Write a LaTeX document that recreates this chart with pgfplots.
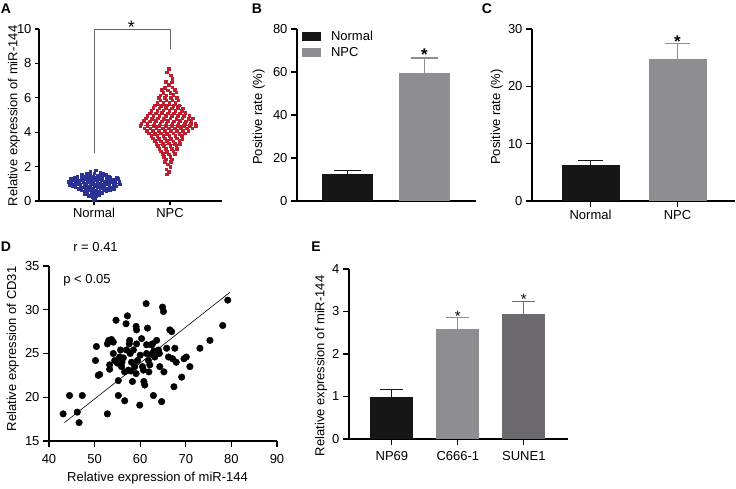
\documentclass[border=0pt]{standalone}
\usepackage{fontspec}
\setmainfont{Liberation Sans}
\usepackage{pgfplots}
\pgfplotsset{compat=1.18}
\definecolor{nblue}{RGB}{43,50,148}
\definecolor{nred}{RGB}{190,30,45}
\definecolor{barblack}{RGB}{22,22,22}
\definecolor{bargray}{RGB}{142,141,146}
\definecolor{bardark}{RGB}{108,106,111}
\newcommand\fs{\fontsize{13}{15.6}\selectfont}
\pgfplotsset{panel/.style={scale only axis, anchor=south west, axis lines=left,
  axis line style={-,line width=1.1pt}, tick style={black,line width=1.1pt},
  tick align=outside, major tick length=6pt, minor tick num=0,
  tick label style={font=\fs}, label style={font=\fs},
  /pgf/number format/assume math mode=true, clip=false}}
\begin{document}
\begin{tikzpicture}
\useasboundingbox (0pt,0pt) rectangle (736pt,488pt);
% ---------- A ----------
\begin{axis}[panel, at={(39pt,287pt)}, width=183pt, height=172pt, major tick length=4pt,
  xmin=0.276, xmax=2.684, ymin=0, ymax=10, ytick={0,2,...,10},
  xtick={1,2}, xticklabels={Normal,NPC},
  ylabel={Relative expression of miR-144},
  ylabel style={at={(axis description cs:-0.137,0.494)}, anchor=center}]
\addplot[only marks, mark=square*, mark size=1.3pt, color=nblue] coordinates {
(1.02,1.78)
(0.95,1.70) (1.08,1.68)
(0.90,1.60) (1.00,1.62) (1.12,1.58)
(0.84,1.52) (0.94,1.53) (1.04,1.51) (1.15,1.52)
(0.78,1.44) (0.88,1.45) (0.98,1.43) (1.08,1.46) (1.19,1.44)
(0.74,1.36) (0.83,1.37) (0.92,1.35) (1.02,1.38) (1.11,1.36) (1.21,1.37) (1.30,1.35)
(0.69,1.28) (0.78,1.29) (0.88,1.27) (0.97,1.30) (1.06,1.28) (1.16,1.29) (1.25,1.27) (1.32,1.30)
(0.72,1.20) (0.82,1.21) (0.91,1.19) (1.01,1.22) (1.10,1.20) (1.19,1.21) (1.28,1.19)
(0.67,1.12) (0.76,1.13) (0.86,1.11) (0.95,1.14) (1.04,1.12) (1.14,1.13) (1.23,1.11) (1.33,1.12)
(0.70,1.04) (0.80,1.05) (0.89,1.03) (0.99,1.06) (1.08,1.04) (1.18,1.05) (1.27,1.03)
(0.68,0.96) (0.77,0.97) (0.87,0.95) (0.96,0.98) (1.06,0.96) (1.15,0.97) (1.25,0.95) (1.34,0.97)
(0.72,0.88) (0.82,0.89) (0.91,0.87) (1.01,0.90) (1.10,0.88) (1.20,0.89) (1.29,0.87)
(0.75,0.80) (0.85,0.81) (0.94,0.79) (1.04,0.82) (1.13,0.80) (1.23,0.81)
(0.79,0.72) (0.89,0.73) (0.98,0.71) (1.08,0.74) (1.17,0.72) (1.26,0.73)
(0.83,0.64) (0.93,0.65) (1.02,0.63) (1.12,0.66) (1.21,0.64)
(0.87,0.56) (0.97,0.57) (1.06,0.55) (1.16,0.56)
(0.91,0.48) (1.01,0.49) (1.10,0.47)
(0.88,0.39) (0.97,0.40) (1.06,0.38)
(0.93,0.31) (1.02,0.30)
(0.98,0.22) (1.01,0.12) (0.99,0.04)
};
\addplot[only marks, mark=square*, mark size=1.3pt, color=nred] coordinates {
(1.98,7.68) (1.96,7.48) (2.01,7.32) (2.03,7.12)
(1.94,6.92) (2.02,6.90) (1.98,6.76)
(1.93,6.60) (2.03,6.62)
(1.89,6.46) (1.97,6.45) (2.06,6.47)
(1.91,6.31) (2.00,6.30) (2.08,6.32)
(1.87,6.16) (1.95,6.15) (2.04,6.17)
(1.85,6.01) (1.93,6.00) (2.01,6.02) (2.09,6.00)
(1.87,5.86) (1.95,5.85) (2.03,5.87) (2.11,5.85)
(1.83,5.71) (1.91,5.70) (1.99,5.72) (2.07,5.70)
(1.80,5.56) (1.88,5.55) (1.96,5.57) (2.04,5.55) (2.12,5.56)
(1.78,5.41) (1.86,5.40) (1.94,5.42) (2.02,5.40) (2.10,5.41) (2.17,5.40)
(1.75,5.26) (1.83,5.25) (1.91,5.27) (1.99,5.25) (2.07,5.26) (2.15,5.25)
(1.73,5.11) (1.81,5.10) (1.89,5.12) (1.97,5.10) (2.05,5.11) (2.13,5.10) (2.20,5.12)
(1.70,4.96) (1.78,4.95) (1.86,4.97) (1.94,4.95) (2.02,4.96) (2.10,4.95) (2.18,4.97) (2.25,4.95)
(1.68,4.81) (1.76,4.80) (1.84,4.82) (1.92,4.80) (2.00,4.81) (2.08,4.80) (2.16,4.82) (2.24,4.80) (2.30,4.81)
(1.65,4.66) (1.73,4.65) (1.81,4.67) (1.89,4.65) (1.97,4.66) (2.05,4.65) (2.13,4.67) (2.21,4.65) (2.28,4.66)
(1.62,4.51) (1.70,4.50) (1.79,4.52) (1.87,4.50) (1.95,4.51) (2.03,4.50) (2.11,4.52) (2.19,4.50) (2.27,4.51) (2.33,4.50)
(1.61,4.38) (1.70,4.37) (1.78,4.39) (1.86,4.37) (1.94,4.38) (2.02,4.37) (2.10,4.39) (2.18,4.37) (2.26,4.38) (2.34,4.37)
(1.66,4.24) (1.74,4.23) (1.82,4.25) (1.90,4.23) (1.98,4.24) (2.06,4.23) (2.14,4.25) (2.22,4.23) (2.29,4.24)
(1.69,4.09) (1.77,4.08) (1.85,4.10) (1.93,4.08) (2.01,4.09) (2.09,4.08) (2.17,4.10) (2.24,4.08)
(1.72,3.94) (1.80,3.93) (1.88,3.95) (1.96,3.93) (2.04,3.94) (2.12,3.93) (2.19,3.95)
(1.75,3.79) (1.83,3.78) (1.91,3.80) (1.99,3.78) (2.07,3.79) (2.15,3.78)
(1.77,3.64) (1.85,3.63) (1.93,3.65) (2.01,3.63) (2.09,3.64) (2.16,3.63)
(1.80,3.49) (1.88,3.48) (1.96,3.50) (2.04,3.48) (2.12,3.49)
(1.82,3.34) (1.90,3.33) (1.98,3.35) (2.06,3.33) (2.13,3.34)
(1.84,3.19) (1.92,3.18) (2.00,3.20) (2.08,3.18)
(1.86,3.04) (1.94,3.03) (2.02,3.05) (2.09,3.03)
(1.88,2.89) (1.96,2.88) (2.04,2.90)
(1.90,2.74) (1.98,2.73) (2.06,2.75)
(1.92,2.59) (2.00,2.58)
(1.94,2.44) (2.02,2.43)
(1.93,2.29) (2.01,2.28)
(1.97,2.14) (2.00,1.99) (1.95,1.84) (1.98,1.70) (1.96,1.55)
};
\addplot[nblue, line width=1pt] coordinates {(0.66,1.0) (1.34,1.0)};
\addplot[nred, line width=1pt] coordinates {(1.66,4.4) (2.28,4.4)};
\addplot[nred, line width=1pt] coordinates {(1.82,5.55) (2.16,5.55)};
\addplot[nred, line width=1pt] coordinates {(1.82,3.30) (2.16,3.30)};
\draw[black!60, line width=0.8pt] (axis cs:1,2.8) -- (axis cs:1,10) -- (axis cs:2,10) -- (axis cs:2,8.84);
\node[font=\fontsize{18}{20}\selectfont, yshift=-5pt] at (axis cs:1.49,10.4) {*};
\end{axis}
% ---------- B ----------
\begin{axis}[panel, at={(297pt,287pt)}, width=179pt, height=172pt,
  xmin=-0.66, xmax=1.67, ymin=0, ymax=80, ytick={0,20,...,80}, xtick=\empty,
  ylabel={Positive rate (\%)},
  ylabel style={at={(axis description cs:-0.213,0.488)}, anchor=center},
  legend style={at={(axis description cs:0.027,0.995)}, anchor=north west, draw=none, fill=none,
    font=\fs, inner sep=0pt, row sep=3.5pt, nodes={inner sep=1pt},
    /tikz/every odd column/.style={column sep=9pt}},
  legend cell align=left]
\addplot[ybar, bar width=51pt, bar shift=0pt, fill=barblack, draw=none,
  legend image code/.code={\fill[barblack] (0pt,-4.5pt) rectangle (19pt,4.5pt);},
  error bars/.cd, y dir=plus, y explicit,
  error bar style={draw=barblack, line width=1.1pt},
  error mark options={draw=barblack, line width=1.1pt, mark size=13.5pt, rotate=90}]
  coordinates {(0,12.5) +- (0,1.5)};
\addlegendentry{Normal}
\addplot[ybar, bar width=51pt, bar shift=0pt, fill=bargray, draw=none,
  legend image code/.code={\fill[bargray] (0pt,-4.5pt) rectangle (19pt,4.5pt);},
  error bars/.cd, y dir=plus, y explicit,
  error bar style={draw=bargray, line width=1.1pt},
  error mark options={draw=bargray, line width=1.1pt, mark size=13.5pt, rotate=90}]
  coordinates {(1,59.5) +- (0,7)};
\addlegendentry{NPC}
\node[font=\bfseries\fontsize{17}{18}\selectfont, yshift=-3pt] at (axis cs:1,69.4) {*};
\end{axis}
% ---------- C ----------
\begin{axis}[panel, at={(532pt,287pt)}, width=203pt, height=172pt,
  xmin=-0.672, xmax=1.66, ymin=0, ymax=30, ytick={0,10,20,30},
  xtick={0,1}, xticklabels={Normal,NPC},
  ylabel={Positive rate (\%)},
  ylabel style={at={(axis description cs:-0.174,0.488)}, anchor=center}]
\addplot[ybar, bar width=58pt, bar shift=0pt, fill=barblack, draw=none,
  error bars/.cd, y dir=plus, y explicit,
  error bar style={draw=barblack, line width=1.1pt},
  error mark options={draw=barblack, line width=1.1pt, mark size=12.5pt, rotate=90}]
  coordinates {(0,6.3) +- (0,0.7)};
\addplot[ybar, bar width=58pt, bar shift=0pt, fill=bargray, draw=none,
  error bars/.cd, y dir=plus, y explicit,
  error bar style={draw=bargray, line width=1.1pt},
  error mark options={draw=bargray, line width=1.1pt, mark size=12.5pt, rotate=90}]
  coordinates {(1,24.8) +- (0,2.7)};
\node[font=\bfseries\fontsize{17}{18}\selectfont, yshift=-3pt] at (axis cs:1,28.4) {*};
\end{axis}
% ---------- D ----------
\begin{axis}[panel, at={(49pt,47pt)}, width=228pt, height=175pt,
  xmin=40, xmax=90, ymin=15, ymax=35, xtick={40,50,...,90}, ytick={15,20,...,35},
  xticklabel style={yshift=-4pt},
  xlabel={Relative expression of miR-144}, ylabel={Relative expression of CD31},
  xlabel style={at={(axis description cs:0.476,-0.211)}, anchor=center},
  ylabel style={at={(axis description cs:-0.159,0.526)}, anchor=center}]
\addplot[only marks, mark=*, mark size=3.3pt, black] coordinates {
(43.1,18.1) (44.5,20.2) (46.2,18.3) (46.6,17.1) (47.3,20.2)
(50.2,24.2) (50.4,25.8) (50.8,22.5) (51.1,22.6) (52.8,18.1)
(53.1,26.5) (52.8,26.1) (53.3,23.7) (53.7,26.6) (54.1,26.3)
(53.3,23.2) (54.7,28.8) (54.1,25.0) (55.0,23.9) (55.2,21.9)
(55.2,20.2) (55.5,24.6) (55.7,25.4) (55.9,23.5) (56.3,24.5)
(56.6,19.6) (56.6,22.9) (56.9,28.4) (57.0,25.4) (57.2,29.3)
(57.4,23.1) (57.6,26.1) (57.7,26.5) (58.1,24.0) (58.3,21.8)
(58.5,25.4) (58.8,23.5) (59.1,28.1) (59.2,27.7) (59.1,22.7)
(59.2,26.1) (59.4,24.2) (59.9,19.1) (60.3,26.7) (60.5,23.5)
(60.7,23.1) (60.8,21.8) (61.0,21.4) (61.3,30.7) (61.4,26.0)
(61.4,25.0) (61.6,27.9) (61.8,24.2) (61.9,22.9) (62.1,23.7)
(62.4,26.0) (62.7,26.1) (62.9,20.2) (63.2,24.6) (63.6,26.5)
(64.0,25.4) (64.2,25.0) (64.3,23.5) (64.7,19.5) (64.9,30.3)
(65.1,29.8) (65.2,22.9) (65.8,25.6) (66.2,24.6) (66.5,27.7)
(66.9,27.5) (67.1,24.4) (67.4,21.2) (67.6,25.6) (67.9,24.0)
(69.1,22.3) (69.6,24.4) (70.1,24.6) (70.9,23.5) (73.1,25.6)
(75.3,26.5) (78.1,28.2) (79.2,31.1) (54.4,24.2) (56.0,24.0)
(58.0,23.0) (60.0,24.8) (62.5,24.9) (63.0,25.3) (57.8,25.0)
};
\addplot[black, line width=0.6pt] coordinates {(43.4,17.1) (79.7,32.0)};
\end{axis}
% ---------- E ----------
\begin{axis}[panel, at={(349pt,49pt)}, width=219pt, height=170pt,
  xmin=-0.65, xmax=2.67, ymin=0, ymax=4, ytick={0,1,2,3,4},
  xtick={0,1,2}, xticklabels={NP69,C666-1,SUNE1},
  xticklabel style={yshift=-3pt},
  ylabel={Relative expression of miR-144},
  ylabel style={at={(axis description cs:-0.128,0.43)}, anchor=center}]
\addplot[ybar, bar width=43pt, bar shift=0pt, fill=barblack, draw=none,
  error bars/.cd, y dir=plus, y explicit,
  error bar style={draw=barblack, line width=1.1pt},
  error mark options={draw=barblack, line width=1.1pt, mark size=11.5pt, rotate=90}]
  coordinates {(0,1.0) +- (0,0.17)};
\addplot[ybar, bar width=43pt, bar shift=0pt, fill=bargray, draw=none,
  error bars/.cd, y dir=plus, y explicit,
  error bar style={draw=bargray, line width=1.1pt},
  error mark options={draw=bargray, line width=1.1pt, mark size=11.5pt, rotate=90}]
  coordinates {(1,2.58) +- (0,0.27)};
\addplot[ybar, bar width=43pt, bar shift=0pt, fill=bardark, draw=none,
  error bars/.cd, y dir=plus, y explicit,
  error bar style={draw=bardark, line width=1.1pt},
  error mark options={draw=bardark, line width=1.1pt, mark size=11.5pt, rotate=90}]
  coordinates {(2,2.93) +- (0,0.30)};
\node[font=\fontsize{15}{17}\selectfont, yshift=-3.5pt] at (axis cs:1,2.96) {*};
\node[font=\fontsize{15}{17}\selectfont, yshift=-3.5pt] at (axis cs:2,3.37) {*};
\end{axis}
% ---------- annotations ----------
\node[font=\fs] at (95.5pt,241.3pt) {r = 0.41};
\node[font=\fs] at (87pt,207.3pt) {p < 0.05};
\node[font=\bfseries\fontsize{14}{16}\selectfont] at (6pt,479pt) {A};
\node[font=\bfseries\fontsize{14}{16}\selectfont] at (257pt,479pt) {B};
\node[font=\bfseries\fontsize{14}{16}\selectfont] at (487pt,479pt) {C};
\node[font=\bfseries\fontsize{14}{16}\selectfont] at (6pt,241pt) {D};
\node[font=\bfseries\fontsize{14}{16}\selectfont] at (316pt,241pt) {E};
\end{tikzpicture}
\end{document}
